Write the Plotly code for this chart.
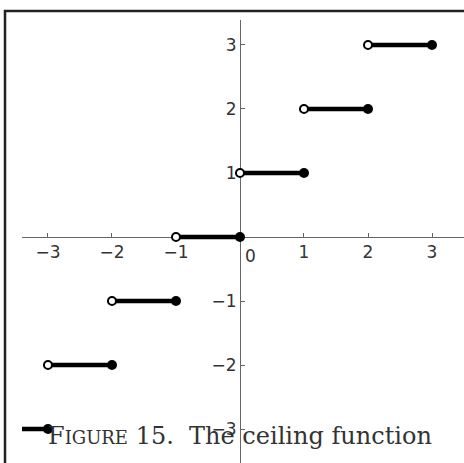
import plotly.graph_objects as go

# ceiling function: on (n-1, n] the value is n
levels = [-3, -2, -1, 0, 1, 2, 3]
left_ends = [-4, -3, -2, -1, 0, 1, 2]
right_ends = [-3, -2, -1, 0, 1, 2, 3]
tick_vals = [-3, -2, -1, 1, 2, 3]
caption = "F<span style='font-size:18px'>IGURE</span> 15.  The ceiling function"

W, H = 464, 463
x_range = [-3.406, 3.5]
y_range = [-3.53, 3.39]
x_domain = [22 / W, 1]
y_domain = [0, 1 - 20 / H]

# where the axes cross (0, 0) in paper fractions
y_axis_pos = x_domain[0] + (0 - x_range[0]) / (x_range[1] - x_range[0]) * (x_domain[1] - x_domain[0])
x_axis_pos = y_domain[0] + (0 - y_range[0]) / (y_range[1] - y_range[0]) * (y_domain[1] - y_domain[0])

seg_x = []
seg_y = []
for a, b, n in zip(left_ends, right_ends, levels):
    seg_x += [a, b, None]
    seg_y += [n, n, None]

open_x = [a for a in left_ends if a >= x_range[0]]
open_y = [n for a, n in zip(left_ends, levels) if a >= x_range[0]]

fig = go.Figure()
fig.add_trace(go.Scatter(x=seg_x, y=seg_y, mode='lines',
                         line=dict(color='black', width=4.5), hoverinfo='none'))
fig.add_trace(go.Scatter(x=open_x, y=open_y, mode='markers',
                         marker=dict(size=8, color='white', line=dict(color='black', width=2)),
                         hoverinfo='none'))
fig.add_trace(go.Scatter(x=right_ends, y=levels, mode='markers',
                         marker=dict(size=10, color='black'), hoverinfo='none'))

axis_style = dict(showgrid=False, zeroline=False, showline=True, linecolor='#666', linewidth=1,
                  ticks='inside', ticklen=4, tickcolor='#666', tickwidth=1,
                  tickvals=tick_vals, layer='below traces', anchor='free',
                  tickfont=dict(family='DejaVu Sans', size=17, color='#333'))

fig.update_layout(
    width=W, height=H,
    margin=dict(l=0, r=0, t=0, b=0),
    paper_bgcolor='white', plot_bgcolor='white',
    showlegend=False,
    xaxis=dict(range=x_range, domain=x_domain, position=x_axis_pos, **axis_style),
    yaxis=dict(range=y_range, domain=y_domain, position=y_axis_pos, **axis_style),
    shapes=[dict(type='rect', xref='paper', yref='paper',
                 x0=5 / W, x1=1.05, y0=-0.05, y1=1 - 11 / H,
                 line=dict(color='#222', width=2.5), layer='below')],
    annotations=[
        dict(x=0, y=0, xref='x', yref='y', text='0', showarrow=False,
             xshift=11, yshift=-19, font=dict(family='DejaVu Sans', size=17, color='#333')),
        dict(x=y_axis_pos, y=1 - 452 / H, xref='paper', yref='paper', text=caption,
             showarrow=False, font=dict(family='DejaVu Serif', size=24, color='#333')),
    ],
)

fig.write_html("out.html", config={'displayModeBar': False},
               post_script="document.body.style.margin='0px';")
